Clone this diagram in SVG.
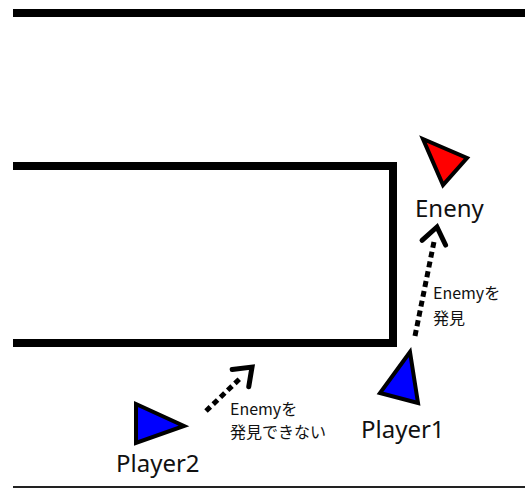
<svg xmlns="http://www.w3.org/2000/svg" width="525" height="488" viewBox="0 0 525 488">
<style>
.wall{fill:none;stroke:#000;stroke-width:8;stroke-linejoin:miter}
.tri{stroke:#000;stroke-width:4;stroke-linejoin:miter}
.big{font-family:"Noto Sans","Noto Sans CJK JP",sans-serif;font-size:24px;fill:#111}
.small{font-family:"Noto Sans CJK JP","Noto Sans",sans-serif;font-size:16px;fill:#111}
.ray{fill:none;stroke:#000;stroke-width:5;stroke-dasharray:6 4}
</style>
<defs>
<marker id="chev" markerUnits="userSpaceOnUse" markerWidth="60" markerHeight="60" viewBox="-30 -30 60 60" refX="-14" refY="0" orient="auto" overflow="visible">
<path d="M-16,-12 L0,0 L-16,12" fill="none" stroke="#000" stroke-width="5" stroke-linecap="round" stroke-linejoin="miter" stroke-dasharray="none"/>
</marker>
</defs>
<g id="walls">
<line class="wall" x1="13" y1="13" x2="525" y2="13"/>
<path class="wall" d="M13,166 H393 V343 H13"/>
<rect x="13" y="486" width="512" height="2" fill="#222"/>
</g>
<g id="enemy">
<polygon class="tri" points="423,139 467,158 443,185" fill="#f00"/>
<text class="big" x="415" y="217">Eneny</text>
</g>
<g id="player1">
<polygon class="tri" points="410,352 380,393 418,403" fill="#00f"/>
<text class="big" x="361" y="438">Player1</text>
</g>
<g id="player2">
<polygon class="tri" points="136,404 184,426 136,443" fill="#00f"/>
<text class="big" x="116" y="472">Player2</text>
</g>
<g id="connectors">
<line class="ray" x1="415" y1="336" x2="434.2" y2="240.7" marker-end="url(#chev)"/>
<line class="ray" x1="206" y1="411" x2="241.9" y2="376.7" marker-end="url(#chev)"/>
</g>
<g id="labels">
<text class="small" x="433" y="299">Enemyを</text>
<text class="small" x="433" y="324">発見</text>
<text class="small" x="230" y="415">Enemyを</text>
<text class="small" x="230" y="438">発見できない</text>
</g>
</svg>
